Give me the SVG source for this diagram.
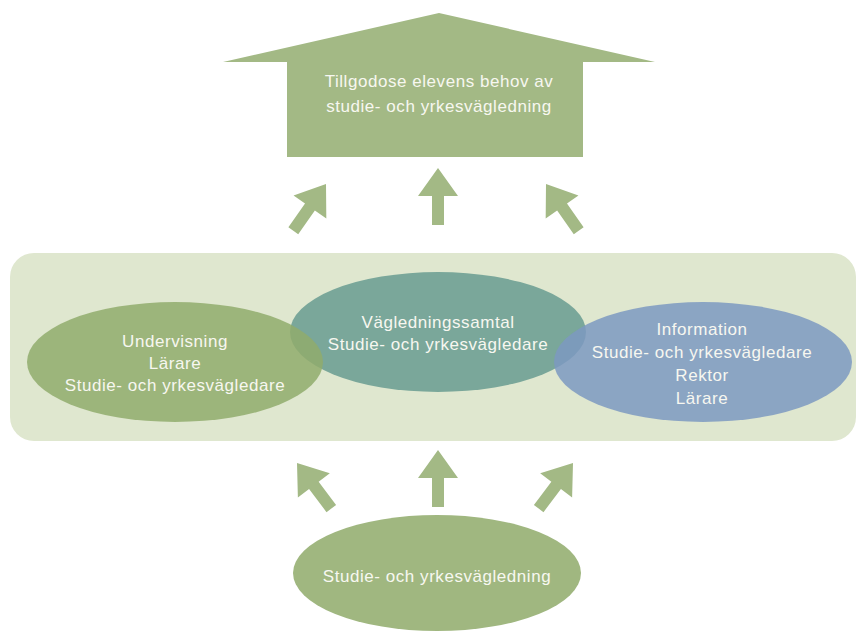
<svg xmlns="http://www.w3.org/2000/svg" xmlns:xlink="http://www.w3.org/1999/xlink" width="858" height="632" viewBox="0 0 858 632">
<style>
.t{font-family:"Liberation Sans",Arial,sans-serif;font-size:17px;fill:#f7f7f0;text-anchor:middle;letter-spacing:0.55px}
.g{fill:#a3b985}
</style>
<defs>
<path id="arr" d="M0,0 L20,28 L6,28 L6,57 L-6,57 L-6,28 L-20,28 Z"/>
</defs>
<rect width="858" height="632" fill="#ffffff"/>
<g id="house">
<path class="g" d="M439,13 L655,62 L583,62 L583,157 L287,157 L287,62 L223,62 Z"/>
<text class="t" x="439" y="87">Tillgodose elevens behov av</text>
<text class="t" x="439" y="112">studie- och yrkesvägledning</text>
</g>
<g id="band">
<rect x="10" y="253" width="846" height="188" rx="24" fill="#dfe7cf"/>
</g>
<g id="vagledningssamtal">
<ellipse cx="438" cy="332" rx="148" ry="60" fill="#7aa79a"/>
</g>
<g id="undervisning">
<ellipse cx="175" cy="362" rx="148" ry="60" fill="#91ac6c" fill-opacity="0.85"/>
</g>
<g id="information">
<ellipse cx="703" cy="362" rx="149" ry="60" fill="#7d99c1" fill-opacity="0.85"/>
</g>
<g id="labels">
<text class="t" x="175" y="347">Undervisning</text>
<text class="t" x="175" y="369">Lärare</text>
<text class="t" x="175" y="391">Studie- och yrkesvägledare</text>
<text class="t" x="438" y="328">Vägledningssamtal</text>
<text class="t" x="438" y="350">Studie- och yrkesvägledare</text>
<text class="t" x="702" y="335">Information</text>
<text class="t" x="702" y="358">Studie- och yrkesvägledare</text>
<text class="t" x="702" y="381">Rektor</text>
<text class="t" x="702" y="404">Lärare</text>
</g>
<g id="bottom">
<ellipse cx="437" cy="573" rx="144" ry="58" fill="#a0b780"/>
<text class="t" x="437" y="582">Studie- och yrkesvägledning</text>
</g>
<g id="connectors" class="g">
<use xlink:href="#arr" transform="translate(326,184) rotate(35)"/>
<use xlink:href="#arr" transform="translate(438,168)"/>
<use xlink:href="#arr" transform="translate(546,184) rotate(-35)"/>
<use xlink:href="#arr" transform="translate(297,463) rotate(-37)"/>
<use xlink:href="#arr" transform="translate(438,450)"/>
<use xlink:href="#arr" transform="translate(573,463) rotate(37)"/>
</g>
</svg>
